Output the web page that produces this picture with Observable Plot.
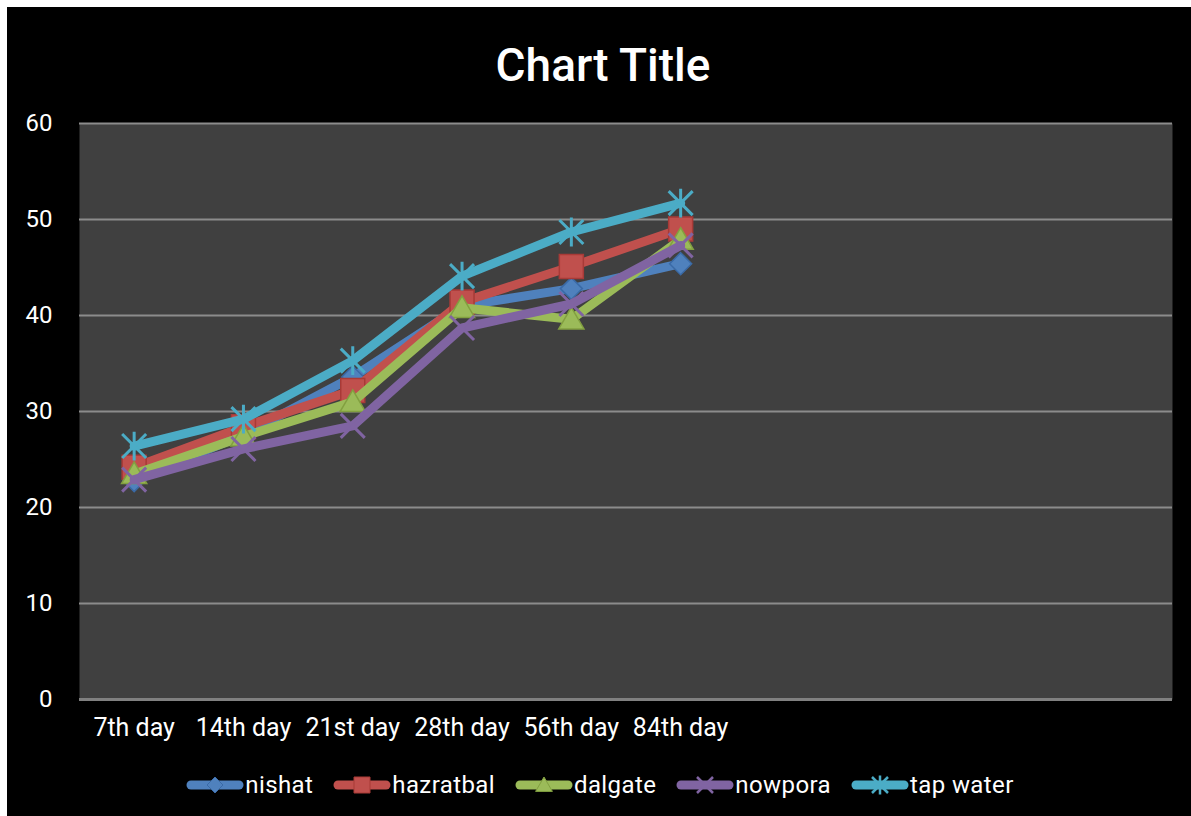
<!DOCTYPE html>
<html><head><meta charset="utf-8">
<script src="https://cdn.jsdelivr.net/npm/d3@7"></script>
<script src="https://cdn.jsdelivr.net/npm/@observablehq/plot@0.6"></script>
<style>
body{margin:0;background:#fff;font-family:Roboto,"Noto Sans",sans-serif;}
#chart{position:absolute;left:7px;top:7px;width:1184px;height:809px;background:#000;overflow:hidden}
#title{position:absolute;left:4px;top:35px;width:1184px;text-align:center;color:#fff;font-size:46px;line-height:46px;font-weight:500;font-family:Roboto,sans-serif;}
#plot{position:absolute;left:0;top:100px}
#legend{position:absolute;left:0;top:763px;width:1186px;height:30px;display:flex;justify-content:center;align-items:center;color:#fff;font-size:24px;letter-spacing:0.4px;font-family:Roboto,sans-serif;}
#legend .item{display:flex;align-items:center;margin:0 10px}
#legend svg{margin-right:1px}
</style></head><body>
<div id="chart"><div id="title">Chart Title</div><div id="plot"></div><div id="legend"></div></div>
<script>
const categories = ["7th day", "14th day", "21st day", "28th day", "56th day", "84th day"];
const seriesNames = ["nishat", "hazratbal", "dalgate", "nowpora", "tap water"];
const nishat    = [22.8, 27.6, 33.6, 41.0, 42.8, 45.4];
const hazratbal = [24.2, 28.4, 32.2, 41.4, 45.1, 49.0];
const dalgate   = [23.5, 27.4, 31.0, 40.8, 39.6, 47.9];
const nowpora   = [22.9, 26.1, 28.5, 38.7, 41.2, 47.3];
const tapWater  = [26.4, 29.2, 35.3, 44.1, 48.7, 51.7];
const yTicks = [0, 10, 20, 30, 40, 50, 60];
const slotCount = 10; // the category axis has 10 slots, only 6 used

const seriesValues = [nishat, hazratbal, dalgate, nowpora, tapWater];
const colors = ["#4F81BD", "#C0504D", "#9BBB59", "#8064A2", "#4BACC6"];
const darker = ["#3A6AA6", "#A83A37", "#82A040", "#6A4F8C", "#3596AE"];
const shapes = ["diamond", "square", "triangle", "times", "star"];
const markerSize = [11, 12, 12, 12, 12];

function drawShape(kind, ctx, h) {
  switch (kind) {
    case "diamond": ctx.moveTo(0, -h); ctx.lineTo(h, 0); ctx.lineTo(0, h); ctx.lineTo(-h, 0); ctx.closePath(); break;
    case "square": ctx.rect(-h, -h, 2 * h, 2 * h); break;
    case "triangle": ctx.moveTo(0, -h); ctx.lineTo(h * 1.05, h * 0.8); ctx.lineTo(-h * 1.05, h * 0.8); ctx.closePath(); break;
    case "times": ctx.moveTo(-h, -h); ctx.lineTo(h, h); ctx.moveTo(-h, h); ctx.lineTo(h, -h); break;
    case "star": ctx.moveTo(-h, -h); ctx.lineTo(h, h); ctx.moveTo(-h, h); ctx.lineTo(h, -h); ctx.moveTo(0, -h * 1.2); ctx.lineTo(0, h * 1.2); break;
  }
}
function symbolOf(kind) {
  return {draw(ctx, size) { drawShape(kind, ctx, Math.sqrt(size / Math.PI)); }};
}
const isStroke = k => k === "times" || k === "star";

const marks = [
  Plot.frame({fill: "#404040", stroke: "none"}),
  Plot.ruleY(yTicks.filter(d => d > 0), {stroke: "#8c8c8c", strokeWidth: 2}),
  Plot.ruleY([0], {stroke: "#808080", strokeWidth: 3}),
  Plot.axisY(yTicks, {tickSize: 0, tickPadding: 27, fontSize: 24, color: "#fff", label: null}),
  Plot.axisX(categories.map((d, i) => i + 0.5), {tickSize: 0, tickPadding: 19, fontSize: 25, color: "#fff", label: null,
    tickFormat: d => categories[Math.round(d - 0.5)]})
];
seriesValues.forEach((vals, s) => {
  const rows = vals.map((v, i) => ({x: i + 0.5, y: v}));
  marks.push(Plot.line(rows, {x: "x", y: "y", stroke: colors[s], strokeWidth: 9, curve: "linear",
    strokeLinecap: "round", strokeLinejoin: "round"}));
  const k = shapes[s];
  marks.push(Plot.dot(rows, {x: "x", y: "y", symbol: symbolOf(k), r: markerSize[s],
    fill: isStroke(k) ? "none" : colors[s], stroke: isStroke(k) ? colors[s] : darker[s],
    strokeWidth: isStroke(k) ? 3 : 1.5}));
});

const chart = Plot.plot({
  width: 1184, height: 647,
  marginLeft: 72, marginRight: 19, marginTop: 16, marginBottom: 55,
  style: {background: "transparent", color: "#fff", fontFamily: "Roboto, sans-serif"},
  x: {domain: [0, slotCount], axis: null},
  y: {domain: [0, 60], axis: null},
  marks
});
document.getElementById("plot").appendChild(chart);

const legend = document.getElementById("legend");
seriesNames.forEach((name, s) => {
  const item = document.createElement("div");
  item.className = "item";
  const p = d3.path();
  drawShape(shapes[s], p, 8);
  const k = shapes[s];
  item.innerHTML = `<svg width="58" height="26" viewBox="-29 -13 58 26">
    <line x1="-24" x2="24" y1="0" y2="0" stroke="${colors[s]}" stroke-width="9" stroke-linecap="round"/>
    <path d="${p.toString()}" fill="${isStroke(k) ? "none" : colors[s]}" stroke="${isStroke(k) ? colors[s] : darker[s]}" stroke-width="${isStroke(k) ? 2.5 : 1}"/>
  </svg><span>${name}</span>`;
  legend.appendChild(item);
});
</script>
</body></html>
